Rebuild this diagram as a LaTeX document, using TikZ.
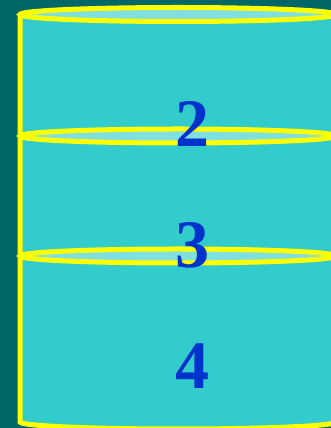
\documentclass[tikz,border=0pt]{standalone}
\usepackage{fontspec}
\setmainfont{Liberation Serif}
\definecolor{bgteal}{HTML}{006666}
\definecolor{cylfill}{HTML}{33CCCC}
\definecolor{cyltop}{HTML}{80E0E0}
\definecolor{rim}{HTML}{FFFF00}
\definecolor{digit}{HTML}{0033CC}
\tikzset{
  rimline/.style={draw=rim, line width=5pt},
  disk/.style={rimline, fill=cyltop},
  lbl/.style={inner sep=0pt, text=digit, font=\fontsize{68}{68}\selectfont\bfseries}
}
\begin{document}
\begin{tikzpicture}[x=1pt,y=1pt]
\useasboundingbox (0,0) rectangle (331,428);
\clip (0,0) rectangle (331,428);
\fill[bgteal] (0,0) rectangle (331,428);
% body
\fill[cylfill] (20,413.5) -- (20,6) arc[start angle=180,end angle=360,x radius=158,y radius=7] -- (336,413.5) -- cycle;
\draw[rimline] (20,413.5) -- (20,6) arc[start angle=180,end angle=360,x radius=158,y radius=7] -- (336,413.5);
% rims
\draw[disk] (178,413.5) ellipse[x radius=158,y radius=7];
\draw[disk] (178,292) ellipse[x radius=158,y radius=7];
\draw[disk] (178,172) ellipse[x radius=158,y radius=7];
% labels
\node[lbl] (n2) at (192,304.5) {2};
\node[lbl] (n3) at (192,182.5) {3};
\node[lbl] (n4) at (192,61.5) {4};
\end{tikzpicture}
\end{document}
